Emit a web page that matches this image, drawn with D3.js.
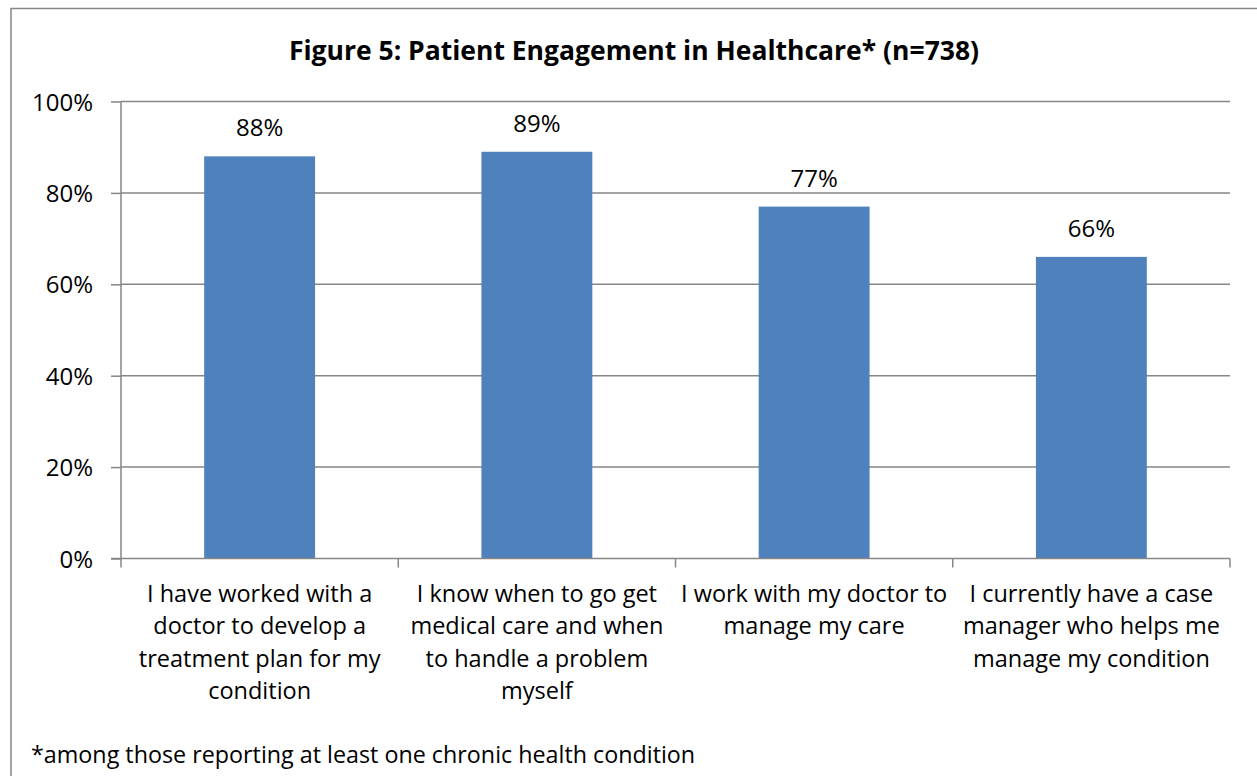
<!DOCTYPE html>
<meta charset="utf-8">
<script src="https://d3js.org/d3.v7.min.js"></script>
<style type="text/css">
body { margin: 0; background: #fff; }
svg text { font-family: "Open Sans", Lato, sans-serif; fill: #000; }
.grid line { stroke: #868686; stroke-width: 1.5px; }
.axis path, .axis line { stroke: #868686; stroke-width: 1.5px; }
.axis text { font-size: 24px; }
</style>
<body>
<div id="chart"></div>
</body>
<script>

// data
var categories = ["worked", "know", "work", "currently"];
var categoryLines = [
  ["I have worked with a", "doctor to develop a", "treatment plan for my", "condition"],
  ["I know when to go get", "medical care and when", "to handle a problem", "myself"],
  ["I work with my doctor to", "manage my care"],
  ["I currently have a case", "manager who helps me", "manage my condition"]
];
var values = [0.88, 0.89, 0.77, 0.66];
var yTicks = [0, 0.2, 0.4, 0.6, 0.8, 1.0];

var W = 1257, H = 776;
var margin = {top: 101.5, right: 27, bottom: 217.5, left: 121};

var svg = d3.select("#chart").append("svg")
    .attr("width", W)
    .attr("height", H);

// outer chart border (right and bottom edges run off the picture)
svg.append("rect")
    .attr("x", 11).attr("y", 8.5)
    .attr("width", W + 10).attr("height", H + 10)
    .style("fill", "none")
    .style("stroke", "#868686")
    .style("stroke-width", 1.5);

svg.append("text")
    .attr("x", 634).attr("y", 60)
    .attr("text-anchor", "middle")
    .style("font-weight", "bold")
    .style("font-size", "26.5px")
    .text("Figure 5: Patient Engagement in Healthcare* (n=738)");

var x = d3.scaleBand()
    .domain(categories)
    .range([margin.left, W - margin.right])
    .paddingInner(0.6)
    .paddingOuter(0.3);

var y = d3.scaleLinear()
    .domain([0, 1])
    .range([H - margin.bottom, margin.top]);

// horizontal gridlines
svg.append("g")
    .attr("class", "grid")
    .selectAll("line")
    .data(yTicks.slice(1))
    .enter().append("line")
    .attr("x1", margin.left).attr("x2", W - margin.right)
    .attr("y1", function(d) { return y(d); })
    .attr("y2", function(d) { return y(d); });

// y axis
var yAxis = d3.axisLeft(y)
    .tickValues(yTicks)
    .tickFormat(d3.format(".0%"))
    .tickSize(10)
    .tickPadding(18);

svg.append("g")
    .attr("class", "y axis")
    .attr("transform", "translate(" + margin.left + ",0)")
    .call(yAxis)
    .call(function(g) { g.select(".domain").attr("d", "M0," + y(1) + "V" + y(0)); })
    .selectAll("text").attr("dy", "0.36em");

// bars
svg.append("g")
    .selectAll("rect")
    .data(values)
    .enter().append("rect")
    .attr("x", function(d, i) { return x(categories[i]); })
    .attr("width", x.bandwidth())
    .attr("y", function(d) { return y(d); })
    .attr("height", function(d) { return y(0) - y(d); })
    .style("fill", "#4F81BD");

// value labels
svg.append("g")
    .selectAll("text")
    .data(values)
    .enter().append("text")
    .attr("x", function(d, i) { return x(categories[i]) + x.bandwidth() / 2; })
    .attr("y", function(d) { return y(d) - 20; })
    .attr("text-anchor", "middle")
    .style("font-size", "24px")
    .text(function(d) { return d3.format(".0%")(d); });

// x axis: baseline plus ticks at category boundaries
var step = x.step();
var bounds = d3.range(categories.length + 1).map(function(i) { return margin.left + i * step; });
var xAxisG = svg.append("g").attr("class", "axis");
xAxisG.append("line")
    .attr("x1", margin.left - 10).attr("x2", W - margin.right)
    .attr("y1", y(0)).attr("y2", y(0));
xAxisG.selectAll(".tick")
    .data(bounds)
    .enter().append("line")
    .attr("x1", function(d) { return d; }).attr("x2", function(d) { return d; })
    .attr("y1", y(0)).attr("y2", y(0) + 9);

// category labels
svg.append("g")
    .selectAll("text")
    .data(categoryLines)
    .enter().append("text")
    .attr("text-anchor", "middle")
    .style("font-size", "23.5px")
    .attr("transform", function(d, i) {
      return "translate(" + (x(categories[i]) + x.bandwidth() / 2) + "," + (y(0) + 43) + ")";
    })
    .selectAll("tspan")
    .data(function(d) { return d; })
    .enter().append("tspan")
    .attr("x", 0)
    .attr("y", function(d, j) { return j * 32.5; })
    .text(function(d) { return d; });

// footnote
svg.append("text")
    .attr("x", 31).attr("y", 763)
    .style("font-size", "23.3px")
    .text("*among those reporting at least one chronic health condition");

</script>
